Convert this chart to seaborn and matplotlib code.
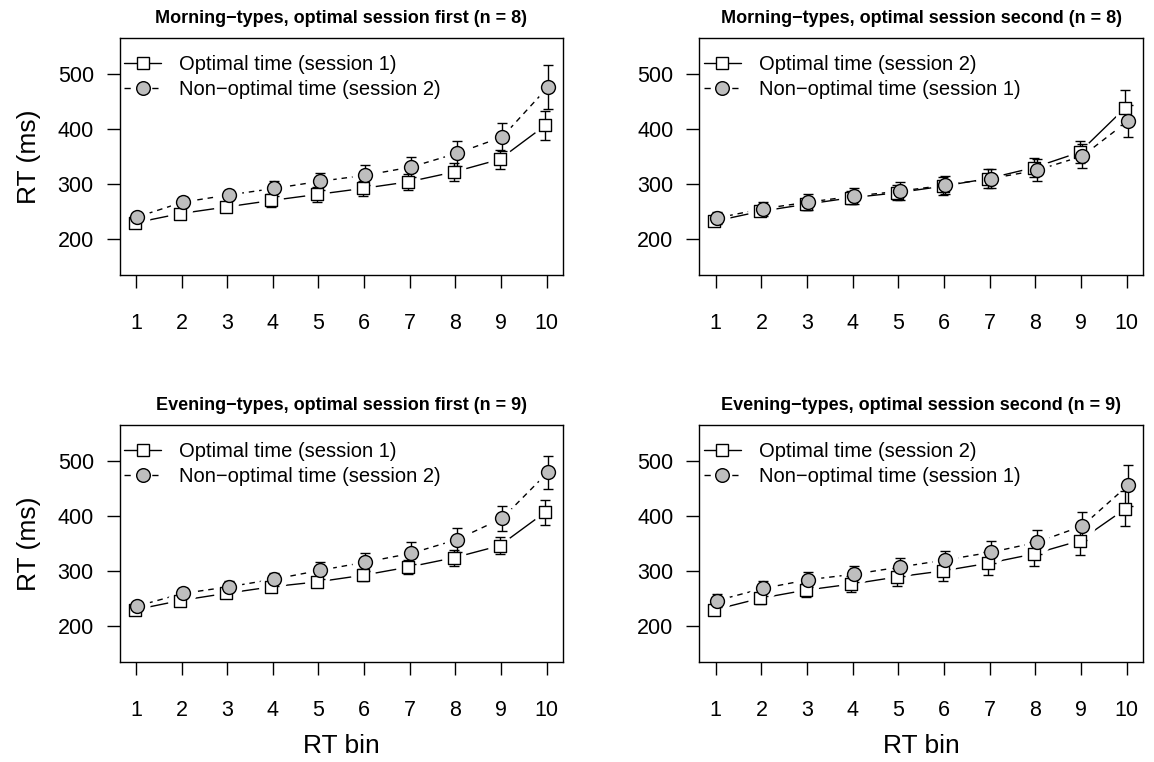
import numpy as np
import pandas as pd
import matplotlib
matplotlib.use("Agg")
import matplotlib.pyplot as plt
from matplotlib.lines import Line2D
import seaborn as sns

# ---------------- data ----------------
bins = [1, 2, 3, 4, 5, 6, 7, 8, 9, 10]
yticks = [200, 300, 400, 500]

titles = [
    "Morning\u2212types, optimal session first (n = 8)",
    "Morning\u2212types, optimal session second (n = 8)",
    "Evening\u2212types, optimal session first (n = 9)",
    "Evening\u2212types, optimal session second (n = 9)",
]
opt_labels = ["Optimal time (session 1)", "Optimal time (session 2)",
              "Optimal time (session 1)", "Optimal time (session 2)"]
non_labels = ["Non\u2212optimal time (session 2)", "Non\u2212optimal time (session 1)",
              "Non\u2212optimal time (session 2)", "Non\u2212optimal time (session 1)"]

# Morning-types, optimal session first
mf_opt = [229, 246, 258, 270, 281, 292, 304, 322, 345, 407]
mf_opt_err = [5, 7, 8, 11, 13, 14, 14, 16, 17, 27]
mf_non = [240, 267, 280, 292, 305, 316, 331, 356, 386, 477]
mf_non_err = [4, 9, 10, 14, 15, 18, 19, 23, 26, 40]
# Morning-types, optimal session second
ms_opt = [232, 250, 263, 275, 284, 296, 310, 330, 358, 439]
ms_opt_err = [8, 9, 10, 12, 14, 16, 17, 18, 20, 32]
ms_non = [238, 255, 267, 278, 287, 298, 310, 325, 351, 415]
ms_non_err = [11, 13, 15, 15, 17, 17, 18, 20, 22, 29]
# Evening-types, optimal session first
ef_opt = [229, 246, 259, 271, 280, 292, 307, 324, 346, 407]
ef_opt_err = [4, 6, 7, 8, 9, 11, 13, 15, 16, 23]
ef_non = [236, 259, 271, 285, 301, 316, 332, 357, 396, 480]
ef_non_err = [5, 9, 10, 12, 15, 17, 20, 22, 23, 30]
# Evening-types, optimal session second
es_opt = [229, 250, 265, 276, 289, 300, 314, 331, 355, 413]
es_opt_err = [6, 10, 13, 14, 16, 18, 21, 22, 26, 32]
es_non = [246, 268, 284, 294, 307, 320, 334, 352, 382, 456]
es_non_err = [12, 14, 14, 15, 16, 17, 20, 22, 25, 38]

panels = [
    (mf_opt, mf_opt_err, mf_non, mf_non_err),
    (ms_opt, ms_opt_err, ms_non, ms_non_err),
    (ef_opt, ef_opt_err, ef_non, ef_non_err),
    (es_opt, es_opt_err, es_non, es_non_err),
]

# ---------------- style ----------------
sns.set_style("ticks")
plt.rcParams["font.family"] = ["Liberation Sans", "DejaVu Sans"]
plt.rcParams["axes.unicode_minus"] = True
for k in ["text.color", "axes.labelcolor", "xtick.color", "ytick.color", "axes.edgecolor"]:
    plt.rcParams[k] = "black"

W, H = 1154, 762
fig = plt.figure(figsize=(W / 100, H / 100), dpi=100)

# axes boxes in pixels: (left, top, right, bottom)
boxes = [
    (119.5, 38.3, 563.0, 275.0),
    (699.3, 38.3, 1143.0, 275.0),
    (119.5, 425.0, 563.0, 662.0),
    (699.3, 425.0, 1143.0, 662.0),
]

GRAY = "#BEBEBE"
DASH = (4, 3.5)
offset = 0.03

for i, (box, data) in enumerate(zip(boxes, panels)):
    l, t, r, b = box
    ax = fig.add_axes([l / W, 1 - b / H, (r - l) / W, (b - t) / H])
    opt, opt_err, non, non_err = data
    x = np.array(bins, dtype=float)
    xo = x - offset
    xn = x + offset

    df = pd.DataFrame({
        "x": np.r_[xo, xn],
        "rt": list(opt) + list(non),
        "cond": ["opt"] * len(bins) + ["non"] * len(bins),
    })
    sns.lineplot(data=df, x="x", y="rt", style="cond",
                 dashes={"opt": "", "non": DASH}, color="black", lw=1.0,
                 estimator=None, sort=False, legend=False, ax=ax, zorder=1)

    # white halos give the R type="b" gaps around points
    ax.scatter(xo, opt, s=320, marker="o", c="white", linewidths=0, zorder=2)
    ax.scatter(xn, non, s=350, marker="o", c="white", linewidths=0, zorder=2)

    ax.errorbar(xo, opt, yerr=opt_err, fmt="none", ecolor="black",
                elinewidth=1.0, capsize=3.6, capthick=1.0, zorder=3)
    ax.errorbar(xn, non, yerr=non_err, fmt="none", ecolor="black",
                elinewidth=1.0, capsize=3.6, capthick=1.0, zorder=3)

    sns.scatterplot(x=xo, y=opt, marker="s", s=70, color="white",
                    edgecolor="black", linewidth=1.0, ax=ax, zorder=4)
    sns.scatterplot(x=xn, y=non, marker="o", s=100, color=GRAY,
                    edgecolor="black", linewidth=1.0, ax=ax, zorder=4)

    ax.set_xlim(0.64, 10.36)
    ax.set_ylim(134, 566)
    ax.set_xticks(bins)
    ax.set_xticklabels([str(v) for v in bins])
    ax.set_yticks(yticks)
    ax.set_yticklabels([str(v) for v in yticks])
    for sp in ax.spines.values():
        sp.set_visible(True)
        sp.set_color("black")
        sp.set_linewidth(1.0)
    ax.tick_params(axis="both", direction="out", length=9.5, width=1.0,
                   labelsize=15.5, colors="black")
    ax.tick_params(axis="x", pad=18)
    ax.tick_params(axis="y", pad=9)

    ax.set_title(titles[i], fontsize=13, fontweight="bold", pad=11)
    if i % 2 == 0:
        ax.set_ylabel("RT (ms)", fontsize=19, labelpad=12)
    else:
        ax.set_ylabel("")
    if i >= 2:
        ax.set_xlabel("RT bin", fontsize=19, labelpad=9.5)
    else:
        ax.set_xlabel("")

    handles = [
        Line2D([], [], color="black", lw=1.0, marker="s", markersize=8.2,
               markerfacecolor="white", markeredgecolor="black", markeredgewidth=1.0),
        Line2D([], [], color="black", lw=1.0, linestyle=(0, (4.5, 5.5)), marker="o",
               markersize=9.8, markerfacecolor=GRAY, markeredgecolor="black",
               markeredgewidth=1.0),
    ]
    ax.legend(handles, [opt_labels[i], non_labels[i]], loc="upper left",
              bbox_to_anchor=(0.01, 0.93), borderaxespad=0, borderpad=0,
              frameon=False, fontsize=14.5, handlelength=1.85,
              handletextpad=0.9, labelspacing=0.32)

fig.savefig("out.png", dpi=100)
